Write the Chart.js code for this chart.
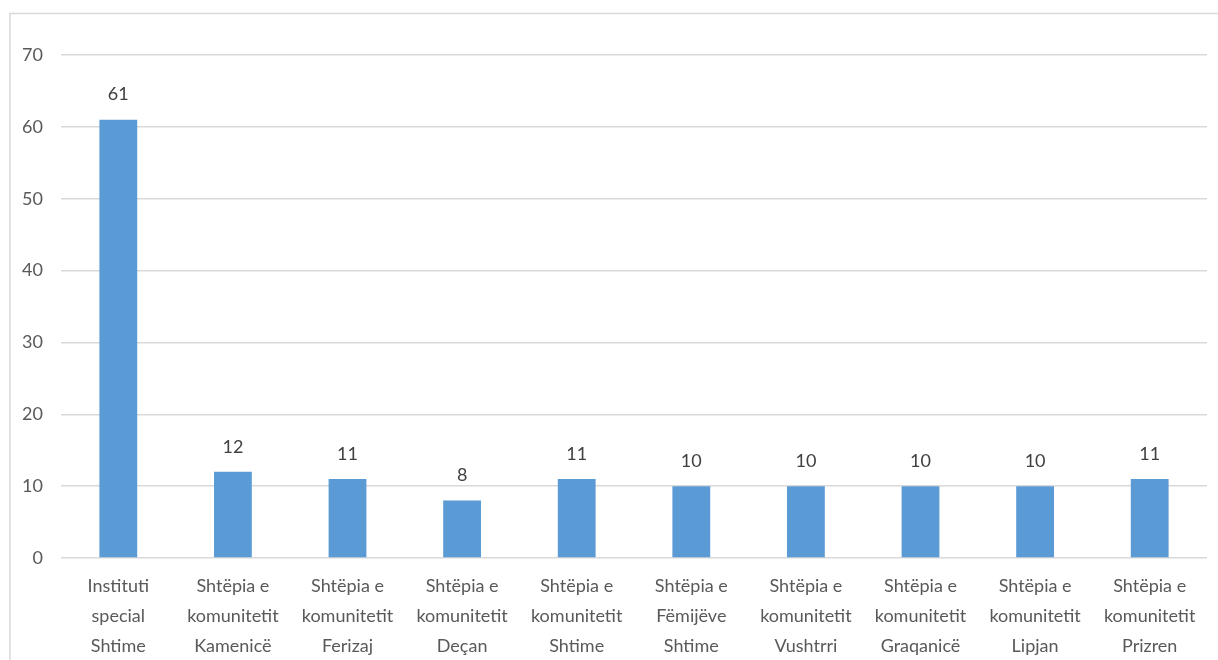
<!DOCTYPE html>
<html>
<head>
<meta charset="utf-8">
<script src="https://cdn.jsdelivr.net/npm/chart.js@4/dist/chart.umd.min.js"></script>
<style>
  html, body { margin: 0; padding: 0; background: #fff; }
  #wrap { width: 1218px; height: 660px; }
</style>
</head>
<body>
<div id="wrap"><canvas id="chart-bar"></canvas></div>
<script>
var categories = [
    ['Instituti', 'special', 'Shtime'],
    ['Shtëpia e', 'komunitetit', 'Kamenicë'],
    ['Shtëpia e', 'komunitetit', 'Ferizaj'],
    ['Shtëpia e', 'komunitetit', 'Deçan'],
    ['Shtëpia e', 'komunitetit', 'Shtime'],
    ['Shtëpia e', 'Fëmijëve', 'Shtime'],
    ['Shtëpia e', 'komunitetit', 'Vushtrri'],
    ['Shtëpia e', 'komunitetit', 'Graqanicë'],
    ['Shtëpia e', 'komunitetit', 'Lipjan'],
    ['Shtëpia e', 'komunitetit', 'Prizren']
];
var values = [61, 12, 11, 8, 11, 10, 10, 10, 10, 11];
var yTicks = [0, 10, 20, 30, 40, 50, 60, 70];

/* frame + value labels */
var framePlugin = {
    id: 'frame',
    beforeDraw: function (chart) {
        var ctx = chart.ctx;
        ctx.save();
        ctx.strokeStyle = '#d9d9d9';
        ctx.lineWidth = 1.5;
        ctx.strokeRect(10, 13.5, 1240, 700);
        ctx.restore();
    }
};
var valueLabels = {
    id: 'valueLabels',
    afterDatasetsDraw: function (chart) {
        var ctx = chart.ctx;
        var meta = chart.getDatasetMeta(0);
        ctx.save();
        ctx.font = '18px Lato, "Open Sans", sans-serif';
        ctx.fillStyle = '#404040';
        ctx.textAlign = 'center';
        ctx.textBaseline = 'middle';
        meta.data.forEach(function (bar, i) {
            ctx.fillText(values[i], bar.x, bar.y - 25);
        });
        ctx.restore();
    }
};

var ctx = document.getElementById('chart-bar').getContext('2d');
var barChart = new Chart(ctx, {
    type: 'bar',
    data: {
        labels: categories,
        datasets: [{
            data: values,
            backgroundColor: '#5b9bd5',
            borderWidth: 0,
            barPercentage: 0.33,
            categoryPercentage: 1
        }]
    },
    options: {
        responsive: true,
        maintainAspectRatio: false,
        animation: false,
        layout: { padding: { left: 0, right: 11, top: 55, bottom: 0 } },
        plugins: {
            legend: { display: false },
            tooltip: { enabled: false }
        },
        scales: {
            x: {
                grid: { display: false },
                border: { display: false },
                ticks: {
                    color: '#595959',
                    font: { family: 'Lato, "Open Sans", sans-serif', size: 18, lineHeight: 1.67 },
                    padding: 5,
                    maxRotation: 0,
                    autoSkip: false
                },
                afterFit: function (scale) { scale.height = 102; }
            },
            y: {
                min: 0,
                max: 70,
                afterBuildTicks: function (scale) {
                    scale.ticks = yTicks.map(function (v) { return { value: v }; });
                },
                grid: { color: '#d9d9d9', lineWidth: 1.5, drawTicks: false },
                border: { display: false },
                ticks: {
                    color: '#595959',
                    font: { family: 'Lato, "Open Sans", sans-serif', size: 18 },
                    padding: 18
                },
                afterFit: function (scale) { scale.width = 61; }
            }
        }
    },
    plugins: [framePlugin, valueLabels]
});
</script>
</body>
</html>
